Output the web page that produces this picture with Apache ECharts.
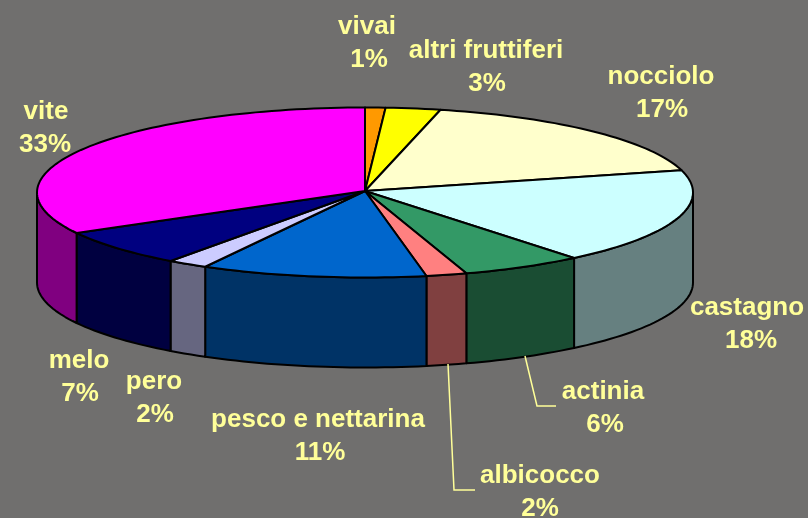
<!DOCTYPE html>
<html>
<head>
<meta charset="utf-8">
<style>html,body{margin:0;padding:0;background:#706f6e}#c{width:808px;height:518px}</style>
<script src="https://cdn.jsdelivr.net/npm/echarts@6/dist/echarts.min.js"></script>
</head>
<body>
<div id="c"></div>
<script>
const categories = ['vivai','altri fruttiferi','nocciolo','castagno','actinia','albicocco','pesco e nettarina','pero','melo','vite'];
const shares = [1.0,2.7,17.1,18.2,6.0,2.0,11.1,2.0,7.0,32.9];
const topColors = ['#ff9900','#ffff00','#ffffcc','#ccffff','#339966','#ff8080','#0066cc','#ccccff','#000080','#ff00ff'];
const sideColors = ['#804d00','#808000','#808066','#668080','#1a4d33','#804040','#003366','#666680','#000040','#800080'];
const labelAt = [[367,10],[486,34],[661,60],[747,291],[603,375],[540,459],[318,403],[154,365],[79,344],[46,95]];
const percentX = [369,487,662,751,605,540,320,155,80,45];
const leaderLines = {4:[[525,356],[537,406],[556,406]],5:[[448,364],[454,490],[475,490]]};

const total = shares.reduce((a,b)=>a+b,0);
let running = 0;
const rows = shares.map((v,i)=>{const r=[v,running,i];running+=v;return r;});

const CX=365, CY=192.5, RX=328, RY=85, H=90, AY=191;
const pt=(deg,dy)=>{const t=deg*Math.PI/180;return [CX+RX*Math.sin(t),CY-RY*Math.cos(t)+(dy||0)];};
function arc(a,b,dy){const out=[];const n=Math.max(2,Math.ceil((b-a)/1.5));for(let k=0;k<=n;k++)out.push(pt(a+(b-a)*k/n,dy));return out;}

function renderItem(params,api){
  const v=api.value(0), s=api.value(1), i=api.value(2);
  const a=s/total*360, b=(s+v)/total*360;
  const children=[];
  const sa=Math.max(a,90), sb=Math.min(b,270);
  const stroke={stroke:'#000',lineWidth:2,lineJoin:'round'};
  if(sb>sa){
    const front=arc(sa,sb,0), back=arc(sa,sb,H).reverse();
    children.push({type:'polygon',shape:{points:front.concat(back)},style:Object.assign({fill:sideColors[i]},stroke)});
  }
  children.push({type:'polygon',shape:{points:[[CX,AY]].concat(arc(a,b,0))},style:Object.assign({fill:topColors[i]},stroke)});
  const ll=leaderLines[i];
  if(ll)children.push({type:'polyline',shape:{points:ll},style:{fill:'none',stroke:'#ffff99',lineWidth:1.5}});
  const font='bold 26px "Liberation Sans", Arial, sans-serif';
  children.push({type:'text',style:{x:labelAt[i][0],y:labelAt[i][1],text:categories[i],
    fill:'#ffff99',font,align:'center',verticalAlign:'top',lineHeight:33.5}});
  children.push({type:'text',style:{x:percentX[i],y:labelAt[i][1]+33.5,text:Math.round(v)+'%',
    fill:'#ffff99',font,align:'center',verticalAlign:'top',lineHeight:33.5}});
  return {type:'group',children};
}

const chart=echarts.init(document.getElementById('c'),null,{renderer:'canvas'});
chart.setOption({
  backgroundColor:'#706f6e',
  animation:false,
  series:[{type:'custom',coordinateSystem:'none',silent:true,data:rows,renderItem,clip:false}]
});
</script>
</body>
</html>
